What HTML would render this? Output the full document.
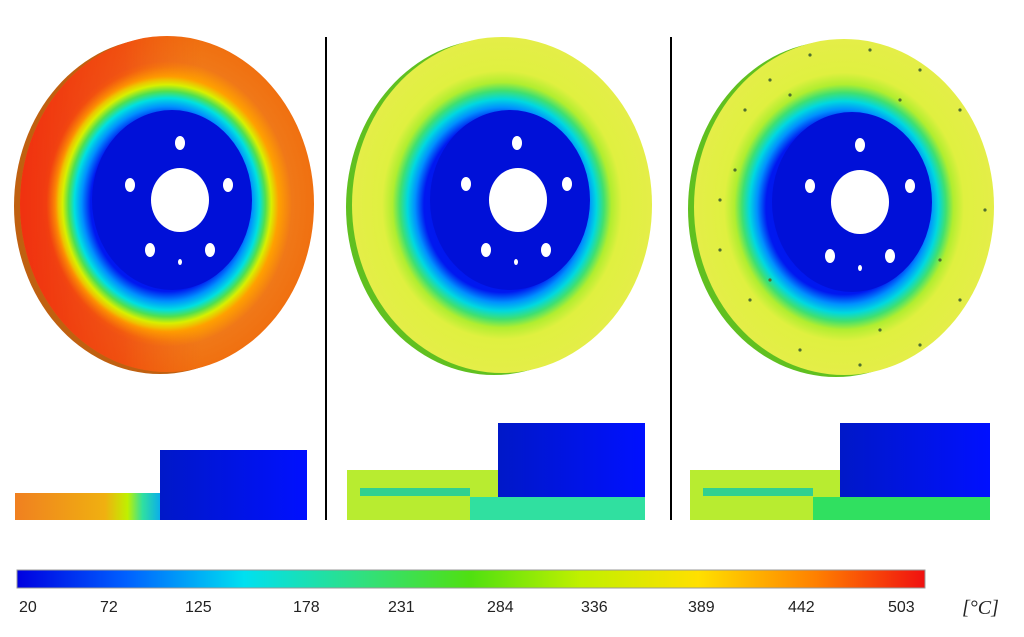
<!DOCTYPE html>
<html><head><meta charset="utf-8"><style>
body{margin:0;background:#fff;}
svg{display:block;}
text{font-family:"Liberation Sans",sans-serif;font-size:16px;fill:#222;}
</style></head><body>
<svg width="1024" height="637" viewBox="0 0 1024 637" xmlns="http://www.w3.org/2000/svg">
<defs>
<radialGradient id="g1" cx="0.5" cy="0.5" r="0.5">
<stop offset="0" stop-color="#0010e0"/><stop offset="0.52" stop-color="#0018f0"/>
<stop offset="0.58" stop-color="#0090ff"/><stop offset="0.63" stop-color="#00e0e0"/>
<stop offset="0.67" stop-color="#50e050"/><stop offset="0.71" stop-color="#d8f000"/>
<stop offset="0.76" stop-color="#ffa000"/><stop offset="0.85" stop-color="#f07818"/>
<stop offset="1" stop-color="#f07010"/></radialGradient>
<radialGradient id="mk" cx="0.5" cy="0.5" r="0.5">
<stop offset="0" stop-color="#000"/><stop offset="0.74" stop-color="#000"/>
<stop offset="0.82" stop-color="#fff"/><stop offset="1" stop-color="#fff"/></radialGradient>
<mask id="ringmask"><ellipse cx="167" cy="204" rx="147" ry="168" fill="url(#mk)"/></mask>
<linearGradient id="redl" x1="0" x2="1">
<stop offset="0" stop-color="#f02810" stop-opacity="0.9"/><stop offset="0.35" stop-color="#f03010" stop-opacity="0.5"/>
<stop offset="0.6" stop-color="#f05010" stop-opacity="0"/></linearGradient>
<radialGradient id="g2" cx="0.5" cy="0.5" r="0.5">
<stop offset="0" stop-color="#0010e0"/><stop offset="0.52" stop-color="#0018f0"/>
<stop offset="0.58" stop-color="#0090ff"/><stop offset="0.63" stop-color="#00d8e0"/>
<stop offset="0.68" stop-color="#40e070"/><stop offset="0.73" stop-color="#b0ee30"/>
<stop offset="0.8" stop-color="#e0f040"/><stop offset="1" stop-color="#e4ee48"/></radialGradient>
<linearGradient id="cb" x1="0" x2="1">
<stop offset="0" stop-color="#0000e0"/><stop offset="0.12" stop-color="#0060ff"/>
<stop offset="0.25" stop-color="#00e0f0"/><stop offset="0.38" stop-color="#30e080"/>
<stop offset="0.5" stop-color="#50e010"/><stop offset="0.62" stop-color="#c0f000"/>
<stop offset="0.75" stop-color="#ffe000"/><stop offset="0.88" stop-color="#ff8000"/>
<stop offset="1" stop-color="#f01010"/></linearGradient>
<linearGradient id="s1" x1="0" x2="1">
<stop offset="0" stop-color="#f08020"/><stop offset="0.6" stop-color="#f0b010"/>
<stop offset="0.75" stop-color="#c0f000"/><stop offset="0.85" stop-color="#30e0a0"/>
<stop offset="1" stop-color="#00a0ff"/></linearGradient>
<linearGradient id="blk" x1="0" x2="1">
<stop offset="0" stop-color="#0018c8"/><stop offset="1" stop-color="#0010ff"/></linearGradient>
</defs>
<!-- disc 1 -->
<ellipse cx="160" cy="206" rx="146" ry="168" fill="#c06010"/>
<ellipse cx="167" cy="204" rx="147" ry="168" fill="url(#g1)"/>
<rect x="15" y="30" width="310" height="350" fill="url(#redl)" mask="url(#ringmask)"/>
<ellipse cx="172" cy="200" rx="80" ry="90" fill="#0010d8"/>
<ellipse cx="180" cy="200" rx="29" ry="32" fill="#fff"/>
<ellipse cx="180" cy="143" rx="5" ry="7" fill="#fff"/><ellipse cx="130" cy="185" rx="5" ry="7" fill="#fff"/>
<ellipse cx="228" cy="185" rx="5" ry="7" fill="#fff"/><ellipse cx="150" cy="250" rx="5" ry="7" fill="#fff"/>
<ellipse cx="210" cy="250" rx="5" ry="7" fill="#fff"/><ellipse cx="180" cy="262" rx="2" ry="3" fill="#fff"/>
<!-- disc 2 -->
<ellipse cx="494" cy="207" rx="148" ry="168" fill="#60c020"/>
<ellipse cx="502" cy="205" rx="150" ry="168" fill="url(#g2)"/>
<ellipse cx="510" cy="200" rx="80" ry="90" fill="#0010d8"/>
<ellipse cx="518" cy="200" rx="29" ry="32" fill="#fff"/>
<ellipse cx="517" cy="143" rx="5" ry="7" fill="#fff"/><ellipse cx="466" cy="184" rx="5" ry="7" fill="#fff"/>
<ellipse cx="567" cy="184" rx="5" ry="7" fill="#fff"/><ellipse cx="486" cy="250" rx="5" ry="7" fill="#fff"/>
<ellipse cx="546" cy="250" rx="5" ry="7" fill="#fff"/><ellipse cx="516" cy="262" rx="2" ry="3" fill="#fff"/>
<!-- disc 3 -->
<ellipse cx="836" cy="209" rx="148" ry="168" fill="#60c020"/>
<ellipse cx="844" cy="207" rx="150" ry="168" fill="url(#g2)"/>
<ellipse cx="852" cy="202" rx="80" ry="90" fill="#0010d8"/>
<ellipse cx="860" cy="202" rx="29" ry="32" fill="#fff"/>
<ellipse cx="860" cy="145" rx="5" ry="7" fill="#fff"/><ellipse cx="810" cy="186" rx="5" ry="7" fill="#fff"/>
<ellipse cx="910" cy="186" rx="5" ry="7" fill="#fff"/><ellipse cx="830" cy="256" rx="5" ry="7" fill="#fff"/>
<ellipse cx="890" cy="256" rx="5" ry="7" fill="#fff"/><ellipse cx="860" cy="268" rx="2" ry="3" fill="#fff"/>
<g fill="#507030">
<circle cx="720" cy="200" r="1.6"/><circle cx="735" cy="170" r="1.6"/><circle cx="745" cy="110" r="1.6"/><circle cx="770" cy="80" r="1.6"/>
<circle cx="810" cy="55" r="1.6"/><circle cx="870" cy="50" r="1.6"/><circle cx="920" cy="70" r="1.6"/><circle cx="960" cy="110" r="1.6"/>
<circle cx="985" cy="210" r="1.6"/><circle cx="960" cy="300" r="1.6"/><circle cx="920" cy="345" r="1.6"/><circle cx="860" cy="365" r="1.6"/>
<circle cx="800" cy="350" r="1.6"/><circle cx="750" cy="300" r="1.6"/><circle cx="720" cy="250" r="1.6"/><circle cx="900" cy="100" r="1.6"/>
<circle cx="790" cy="95" r="1.6"/><circle cx="940" cy="260" r="1.6"/><circle cx="770" cy="280" r="1.6"/><circle cx="880" cy="330" r="1.6"/>
</g>
<!-- dividers -->
<line x1="326" y1="37" x2="326" y2="520" stroke="#000" stroke-width="2"/>
<line x1="671" y1="37" x2="671" y2="520" stroke="#000" stroke-width="2"/>
<!-- sections -->
<rect x="15" y="493" width="150" height="27" fill="url(#s1)"/>
<rect x="160" y="450" width="147" height="70" fill="url(#blk)"/>
<rect x="347" y="470" width="155" height="50" fill="#b8ec30"/>
<rect x="360" y="488" width="110" height="8" fill="#30d090"/>
<rect x="470" y="497" width="175" height="23" fill="#30e0a0"/>
<rect x="498" y="423" width="147" height="74" fill="url(#blk)"/>
<rect x="690" y="470" width="155" height="50" fill="#b8ec30"/>
<rect x="703" y="488" width="110" height="8" fill="#30d090"/>
<rect x="813" y="497" width="177" height="23" fill="#30e060"/>
<rect x="840" y="423" width="150" height="74" fill="url(#blk)"/>
<!-- colorbar -->
<rect x="17" y="570" width="908" height="18" fill="url(#cb)" stroke="#999"/>
<text x="19" y="612">20</text><text x="100" y="612">72</text><text x="185" y="612">125</text>
<text x="293" y="612">178</text><text x="388" y="612">231</text><text x="487" y="612">284</text>
<text x="581" y="612">336</text><text x="688" y="612">389</text><text x="788" y="612">442</text>
<text x="888" y="612">503</text>
<text x="962" y="614" style="font-family:'Liberation Serif',serif;font-size:20px;font-style:italic">[°C]</text>
</svg>
</body></html>
